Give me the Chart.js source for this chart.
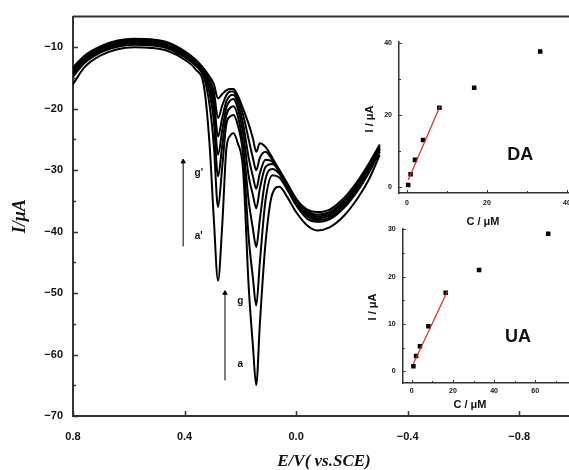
<!DOCTYPE html>
<html>
<head>
<meta charset="utf-8">
<script src="https://cdn.jsdelivr.net/npm/chart.js"></script>
<style>
  html, body { margin: 0; padding: 0; width: 569px; height: 470px; overflow: hidden; background: #fff; }
  canvas { position: absolute; }
  #main { left: 0; top: 0; }
  #daInset { left: 355px; top: 20px; }
  #uaInset { left: 355px; top: 215px; }
</style>
</head>
<body>
<canvas id="main" width="580" height="470"></canvas>
<canvas id="daInset" width="235" height="215"></canvas>
<canvas id="uaInset" width="235" height="210"></canvas>
<script>
// DPV curves: potential (V vs SCE) and current (uA) for each trace
const potential = [0.80, 0.76, 0.70, 0.64, 0.58, 0.52, 0.46, 0.40, 0.36, 0.33, 0.31, 0.295, 0.28, 0.265, 0.25, 0.235, 0.225, 0.21, 0.19, 0.17, 0.155, 0.143, 0.13, 0.11, 0.085, 0.06, 0.03, 0.00, -0.04, -0.075, -0.12, -0.17, -0.22, -0.26, -0.30];
const curveA = [-16.0, -13.3, -11.3, -10.3, -10.0, -10.1, -10.6, -12.0, -13.6, -16.5, -26.0, -38.0, -48.0, -39.0, -26.5, -24.3, -24.0, -25.5, -30.0, -49.0, -58.5, -65.0, -55.0, -42.0, -33.8, -32.7, -34.5, -36.8, -39.0, -39.8, -39.3, -37.5, -34.6, -31.6, -27.5];
const curveB = [-14.8, -12.6, -10.8, -9.9, -9.6, -9.7, -10.2, -11.6, -13.0, -15.0, -19.5, -26.0, -36.0, -29.5, -22.5, -21.2, -21.0, -22.5, -27.5, -41.0, -47.5, -52.0, -45.0, -35.0, -30.8, -31.2, -33.3, -35.7, -37.9, -38.4, -38.0, -36.2, -33.4, -30.5, -27.0];
const curveC = [-14.5, -12.3, -10.6, -9.7, -9.4, -9.5, -10.0, -11.4, -12.8, -14.6, -17.5, -22.0, -31.0, -26.0, -21.0, -19.8, -19.6, -21.0, -26.0, -35.0, -39.5, -42.5, -38.0, -31.5, -29.8, -30.6, -32.9, -35.3, -37.5, -38.1, -37.7, -35.9, -33.1, -30.2, -26.7];
const curveD = [-14.2, -12.1, -10.4, -9.5, -9.2, -9.3, -9.8, -11.2, -12.6, -14.2, -16.5, -20.0, -27.5, -23.5, -19.8, -18.6, -18.4, -19.8, -24.0, -31.0, -34.0, -36.2, -33.0, -29.5, -29.0, -30.3, -32.6, -35.0, -37.2, -37.8, -37.4, -35.6, -32.8, -29.9, -26.5];
const curveE = [-13.9, -11.9, -10.2, -9.3, -9.0, -9.1, -9.6, -11.0, -12.4, -14.0, -15.8, -18.5, -24.5, -21.5, -18.8, -17.8, -17.7, -19.0, -22.5, -28.0, -31.0, -33.0, -30.5, -28.3, -28.6, -30.1, -32.4, -34.8, -36.9, -37.5, -37.1, -35.3, -32.5, -29.6, -26.3];
const curveF = [-13.6, -11.7, -10.0, -9.1, -8.8, -8.9, -9.4, -10.8, -12.2, -13.8, -15.3, -17.2, -21.5, -19.5, -17.8, -17.2, -17.2, -18.4, -21.0, -25.0, -28.0, -30.0, -28.0, -27.0, -28.3, -30.0, -32.3, -34.6, -36.6, -37.2, -36.8, -35.0, -32.2, -29.3, -26.1];
const curveG = [-13.3, -11.4, -9.8, -8.9, -8.6, -8.7, -9.2, -10.6, -12.0, -13.5, -14.8, -16.0, -18.3, -17.6, -17.0, -16.8, -16.8, -17.8, -20.0, -22.5, -24.8, -27.0, -25.6, -26.2, -28.0, -30.0, -32.4, -34.8, -36.4, -36.8, -36.4, -34.6, -31.8, -29.0, -25.8];

// Main axis ticks
const xTicks = [0.8, 0.4, 0.0, -0.4, -0.8];
const yTicks = [-10, -20, -30, -40, -50, -60, -70];
const yMinor = [-15, -25, -35, -45, -55, -65];

// Arrows (potential, from current, to current) and their labels
const arrowDA = [0.405, -42.4, -28.6];
const arrowUA = [0.255, -64.2, -50.0];
const curveLabels = [["g'", 0.349, -30.5], ["a'", 0.349, -40.8], ["g", 0.20, -51.3], ["a", 0.20, -61.5]];

// DA calibration inset
const daConc = [0.3, 0.9, 2.0, 4.0, 8.1, 16.8, 33.3];
const daCurrent = [0.5, 3.5, 7.5, 13.0, 22.0, 27.5, 37.6];
const daFitConc = [0.3, 8.3];
const daFitCurrent = [1.9, 22.5];
const daXTicks = [0, 20, 40];
const daXMinor = [10, 30];
const daYTicks = [0, 20, 40];
const daYMinor = [10, 30];

// UA calibration inset
const uaConc = [0.8, 2.1, 4.0, 8.1, 16.5, 32.7, 66.3];
const uaCurrent = [1.05, 3.2, 5.3, 9.5, 16.6, 21.4, 29.1];
const uaFitConc = [0.8, 17.3];
const uaFitCurrent = [1.6, 16.9];
const uaXTicks = [0, 20, 40, 60];
const uaXMinor = [10, 30, 50, 70];
const uaYTicks = [0, 10, 20, 30];
const uaYMinor = [5, 15, 25];

const AXIS = '#333';
const SANS = "'Liberation Sans', Arial, sans-serif";
const SERIF = "'Liberation Serif', 'Times New Roman', serif";

// draws ticks pointing into the plot, minor ones (empty label) shorter
const innerTicks = {
  id: 'innerTicks',
  afterDraw(chart, args, opts) {
    const ctx = chart.ctx;
    ctx.save();
    ctx.strokeStyle = AXIS;
    ctx.lineWidth = opts.width || 1;
    Object.values(chart.scales).forEach(scale => {
      scale.ticks.forEach(t => {
        const p = Math.round(scale.getPixelForValue(t.value)) + 0.5;
        const len = t.label === '' ? opts.minor : opts.major;
        ctx.beginPath();
        if (scale.isHorizontal()) {
          ctx.moveTo(p, scale.top);
          ctx.lineTo(p, scale.top - len);
        } else {
          ctx.moveTo(scale.right, p);
          ctx.lineTo(scale.right + len, p);
        }
        ctx.stroke();
      });
    });
    if (opts.topBorder) {
      const a = chart.chartArea;
      ctx.lineWidth = 2;
      ctx.beginPath();
      ctx.moveTo(a.left, a.top);
      ctx.lineTo(a.right, a.top);
      ctx.stroke();
    }
    ctx.restore();
  }
};

// text items either at data coords (data) or canvas pixels (px)
const textMarks = {
  id: 'textMarks',
  afterDatasetsDraw(chart, args, opts) {
    const ctx = chart.ctx;
    (opts.items || []).forEach(it => {
      let x, y;
      if (it.data) {
        x = chart.scales.x.getPixelForValue(it.data[0]);
        y = chart.scales.y.getPixelForValue(it.data[1]);
      } else {
        x = it.px[0];
        y = it.px[1];
      }
      ctx.save();
      ctx.translate(x, y);
      ctx.rotate(it.rot || 0);
      ctx.font = it.font;
      ctx.fillStyle = '#111';
      ctx.textAlign = 'center';
      ctx.textBaseline = 'middle';
      ctx.fillText(it.text, 0, 0);
      ctx.restore();
    });
  }
};

function fmt(v) {
  const s = Math.abs(v).toFixed(1);
  return v < 0 ? '\u2212' + s : s;
}

function setTicks(major, minor) {
  return scale => {
    scale.ticks = major.concat(minor).sort((a, b) => a - b).map(v => ({ value: v }));
  };
}

function curve(values) {
  return {
    data: potential.map((v, i) => ({ x: v, y: values[i] })),
    borderColor: '#000',
    borderWidth: 2,
    pointRadius: 0,
    fill: false,
    cubicInterpolationMode: 'monotone'
  };
}

function arrow(a) {
  return {
    data: [{ x: a[0], y: a[1] }, { x: a[0], y: a[2] }],
    borderColor: '#000',
    borderWidth: 1,
    pointRadius: [0, 2.5],
    pointStyle: 'triangle',
    pointBackgroundColor: '#000',
    pointBorderColor: '#000',
    pointBorderWidth: 1
  };
}

// Main DPV chart
new Chart(document.getElementById('main'), {
  type: 'line',
  data: {
    datasets: [curve(curveA), curve(curveB), curve(curveC), curve(curveD), curve(curveE), curve(curveF), curve(curveG), arrow(arrowDA), arrow(arrowUA)]
  },
  options: {
    responsive: false,
    animation: false,
    devicePixelRatio: 1,
    layout: { padding: { top: 15, left: 0, right: 4.1, bottom: 0 } },
    plugins: {
      legend: { display: false },
      tooltip: { enabled: false },
      innerTicks: { major: 5, minor: 3, width: 1.5, topBorder: true },
      textMarks: {
        items: curveLabels.map(l => ({ text: l[0], data: [l[1], l[2]], font: 'bold 10px ' + SANS }))
      }
    },
    scales: {
      x: {
        type: 'linear',
        reverse: true,
        min: -1.0,
        max: 0.8,
        afterBuildTicks: setTicks(xTicks, []),
        afterFit: s => { s.height = 54; },
        grid: { display: false, drawTicks: false },
        border: { display: true, color: AXIS, width: 2 },
        ticks: { autoSkip: false, maxRotation: 0, padding: 14, color: '#111', font: { family: SANS, size: 11, weight: 'bold' }, callback: v => fmt(v) },
        title: { display: true, text: 'E/V( vs.SCE)', color: '#111', padding: 0, font: { family: SERIF, size: 17, weight: 'bold', style: 'italic', lineHeight: 1 } }
      },
      y: {
        min: -70,
        max: -5,
        afterBuildTicks: setTicks(yTicks, yMinor),
        afterFit: s => { s.width = 73; },
        grid: { display: false, drawTicks: false },
        border: { display: true, color: AXIS, width: 2 },
        ticks: { autoSkip: false, padding: 10, color: '#111', font: { family: SANS, size: 11, weight: 'bold' }, callback: v => yTicks.includes(v) ? '\u2212' + Math.abs(v) : '' },
        title: { display: true, text: 'I/\u03bcA', color: '#111', padding: { top: 11, bottom: 0 }, font: { family: SERIF, size: 18, weight: 'bold', style: 'italic', lineHeight: 1 } }
      }
    }
  },
  plugins: [innerTicks, textMarks]
});

// calibration inset builder
function inset(id, o) {
  new Chart(document.getElementById(id), {
    type: 'scatter',
    data: {
      datasets: [
        {
          data: o.fitC.map((c, i) => ({ x: c, y: o.fitI[i] })),
          showLine: true,
          borderColor: '#d42a2a',
          borderWidth: 1.2,
          pointRadius: 0
        },
        {
          data: o.conc.map((c, i) => ({ x: c, y: o.cur[i] })),
          pointStyle: 'rect',
          pointRadius: 3.2,
          pointBackgroundColor: '#000',
          pointBorderColor: '#000',
          pointBorderWidth: 0
        }
      ]
    },
    options: {
      responsive: false,
      animation: false,
      devicePixelRatio: 1,
      layout: { padding: { top: o.padTop, left: 0, right: 21, bottom: 0 } },
      plugins: {
        legend: { display: false },
        tooltip: { enabled: false },
        innerTicks: { major: 3, minor: 2, width: 1 },
        textMarks: {
          items: [
            { text: o.name, data: o.namePos, font: 'bold 18px ' + SANS },
            { text: 'C / \u03bcM', px: o.xTitle, font: 'bold 11px ' + SANS },
            { text: 'I / \u03bcA', px: o.yTitle, rot: -Math.PI / 2, font: 'bold 11px ' + SANS }
          ]
        }
      },
      scales: {
        x: {
          type: 'linear',
          min: o.xMin,
          max: o.xMax,
          afterBuildTicks: setTicks(o.xTicks, o.xMinor),
          afterFit: s => { s.height = 42; },
          grid: { display: false, drawTicks: false },
          border: { display: true, color: AXIS, width: 1.5 },
          ticks: { autoSkip: false, maxRotation: 0, padding: o.xPad, color: '#111', font: { family: SANS, size: 7, weight: 'bold' }, callback: v => o.xTicks.includes(v) ? String(v) : '' }
        },
        y: {
          min: o.yMin,
          max: o.yMax,
          afterBuildTicks: setTicks(o.yTicks, o.yMinor),
          afterFit: s => { s.width = o.yWidth; },
          grid: { display: false, drawTicks: false },
          border: { display: true, color: AXIS, width: 1.5 },
          ticks: { autoSkip: false, padding: 7, color: '#111', font: { family: SANS, size: 7, weight: 'bold' }, callback: v => o.yTicks.includes(v) ? String(v) : '' }
        }
      }
    },
    plugins: [innerTicks, textMarks]
  });
}

inset('daInset', {
  name: 'DA', namePos: [28.3, 8.9],
  conc: daConc, cur: daCurrent, fitC: daFitConc, fitI: daFitCurrent,
  xMin: -2, xMax: 40.5, yMin: -1.7, yMax: 40.4,
  xTicks: daXTicks, xMinor: daXMinor, yTicks: daYTicks, yMinor: daYMinor,
  padTop: 21.4, yWidth: 44, xPad: 6,
  xTitle: [128, 202], yTitle: [15, 99]
});

inset('uaInset', {
  name: 'UA', namePos: [51.6, 7.2],
  conc: uaConc, cur: uaCurrent, fitC: uaFitConc, fitI: uaFitCurrent,
  xMin: -4.4, xMax: 76.4, yMin: -2.5, yMax: 30.1,
  xTicks: uaXTicks, xMinor: uaXMinor, yTicks: uaYTicks, yMinor: uaYMinor,
  padTop: 14, yWidth: 47.7, xPad: 4,
  xTitle: [115, 190], yTitle: [18, 92]
});
</script>
</body>
</html>
